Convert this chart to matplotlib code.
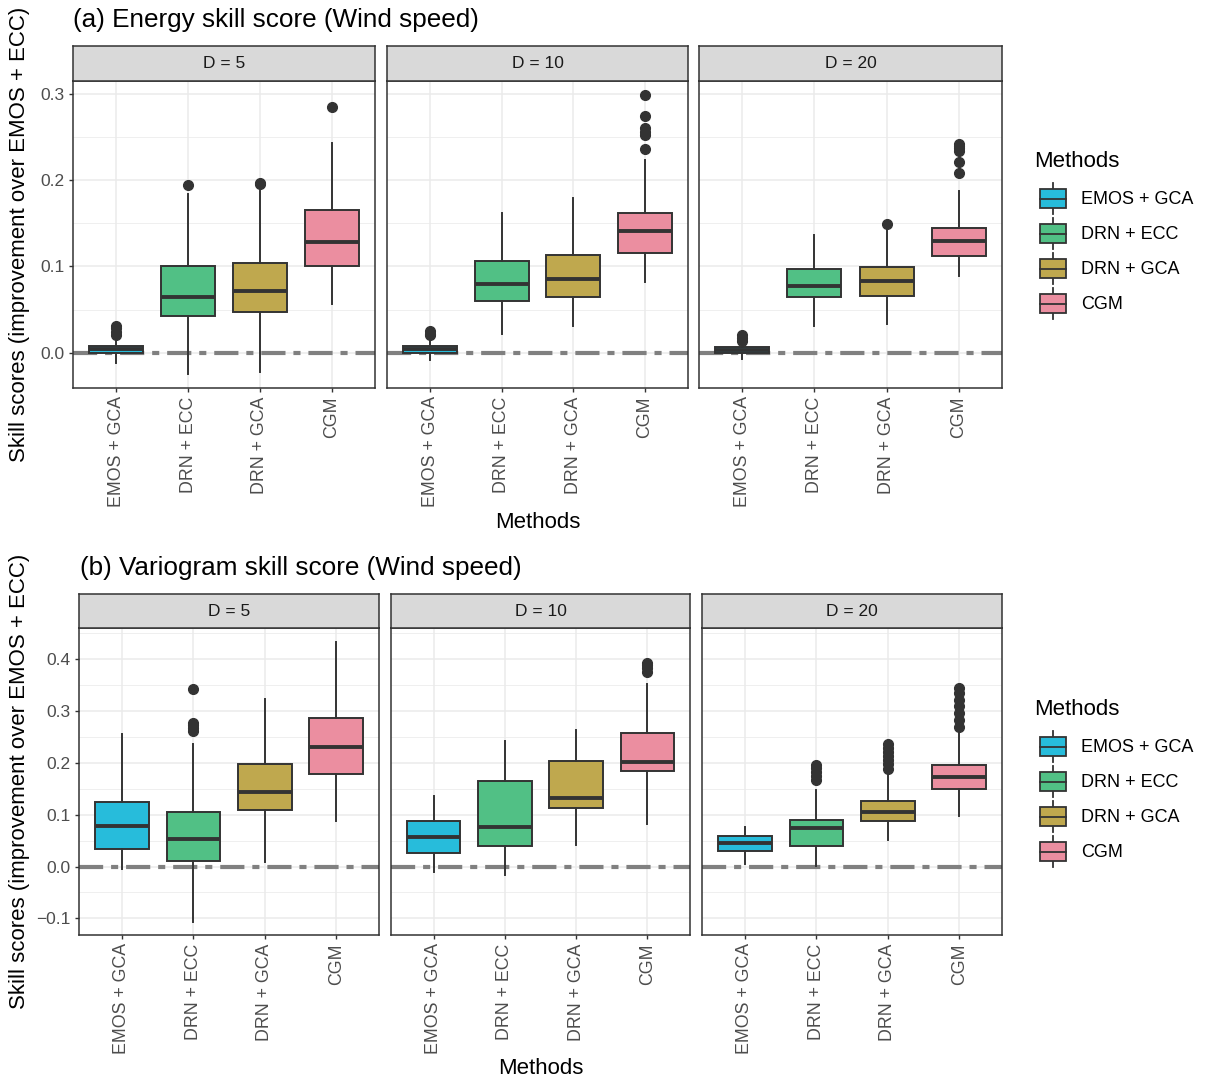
import numpy as np
import matplotlib.pyplot as plt
from matplotlib.patches import Patch, Rectangle
from matplotlib.lines import Line2D
from matplotlib.legend_handler import HandlerBase

plt.rcParams['font.family'] = ['Liberation Sans', 'DejaVu Sans']

methods = ['EMOS + GCA', 'DRN + ECC', 'DRN + GCA', 'CGM']
dims = ['D = 5', 'D = 10', 'D = 20']
colors = ['#27bcdb', '#51c085', '#bfa84e', '#eb8ea0']

# (a) energy skill score, rows: D = 5, 10, 20; columns: methods
es_q1 = [[0.000, 0.042, 0.047, 0.100],
         [0.000, 0.060, 0.064, 0.115],
         [0.000, 0.064, 0.066, 0.112]]
es_med = [[0.004, 0.065, 0.072, 0.128],
          [0.004, 0.080, 0.085, 0.141],
          [0.003, 0.077, 0.083, 0.130]]
es_q3 = [[0.008, 0.101, 0.104, 0.165],
         [0.008, 0.106, 0.113, 0.162],
         [0.006, 0.097, 0.099, 0.144]]
es_lo = [[-0.012, -0.025, -0.022, 0.056],
         [-0.008, 0.022, 0.031, 0.082],
         [-0.007, 0.031, 0.033, 0.089]]
es_hi = [[0.016, 0.184, 0.188, 0.243],
         [0.014, 0.162, 0.179, 0.223],
         [0.011, 0.137, 0.145, 0.188]]
es_out = [[[0.021, 0.024, 0.028, 0.031], [0.194], [0.195, 0.197], [0.285]],
          [[0.020, 0.022, 0.025], [], [], [0.236, 0.252, 0.256, 0.260, 0.274, 0.299]],
          [[0.014, 0.017, 0.020], [], [0.149], [0.208, 0.221, 0.234, 0.237, 0.240, 0.242]]]

# (b) variogram skill score
vs_q1 = [[0.033, 0.010, 0.109, 0.178],
         [0.027, 0.039, 0.113, 0.185],
         [0.030, 0.040, 0.088, 0.149]]
vs_med = [[0.079, 0.053, 0.144, 0.230],
          [0.057, 0.077, 0.133, 0.202],
          [0.045, 0.075, 0.106, 0.172]]
vs_q3 = [[0.124, 0.106, 0.198, 0.287],
         [0.088, 0.165, 0.204, 0.258],
         [0.059, 0.089, 0.126, 0.196]]
vs_lo = [[-0.004, -0.107, 0.008, 0.088],
         [-0.010, -0.017, 0.041, 0.083],
         [0.005, 0.002, 0.051, 0.097]]
vs_hi = [[0.256, 0.236, 0.324, 0.433],
         [0.136, 0.243, 0.263, 0.352],
         [0.077, 0.148, 0.178, 0.260]]
vs_out = [[[], [0.262, 0.268, 0.272, 0.277, 0.342], [], []],
          [[], [], [], [0.376, 0.382, 0.388, 0.392]],
          [[], [0.167, 0.175, 0.183, 0.190, 0.196],
           [0.189, 0.197, 0.205, 0.213, 0.221, 0.229, 0.236],
           [0.270, 0.283, 0.297, 0.310, 0.322, 0.334, 0.344]]]

W, H = 1205, 1081
fig = plt.figure(figsize=(W / 100, H / 100), dpi=100)
DARK = '#333333'


def rect(x0, y0, x1, y1):
    return [x0 / W, 1 - y1 / H, (x1 - x0) / W, (y1 - y0) / H]


class BoxKey(HandlerBase):
    # ggplot-like boxplot key: box, median and whisker stubs
    def create_artists(self, legend, orig_handle, xdescent, ydescent,
                       width, height, fontsize, trans):
        x0, y0 = -xdescent + 4.3, -ydescent
        width = width - 4.3
        xm = x0 + width / 2
        w1 = Line2D([xm, xm], [y0, y0 + 0.2 * height], color=DARK, lw=1.3, transform=trans)
        w2 = Line2D([xm, xm], [y0 + 0.8 * height, y0 + height], color=DARK, lw=1.3, transform=trans)
        box = Rectangle((x0, y0 + 0.2 * height), width, 0.6 * height,
                        facecolor=orig_handle.get_facecolor(), edgecolor=DARK,
                        lw=1.3, transform=trans)
        med = Line2D([x0, x0 + width], [y0 + height / 2] * 2, color=DARK, lw=1.3, transform=trans)
        return [w1, w2, box, med]


def draw_row(q1, med, q3, lo, hi, out, xs, strip_top, y_top, y_bot,
             ylim, major, minor, title, title_x, title_y, xlab_y, leg_y):
    for k in range(3):
        x0, x1 = xs[k]
        ax = fig.add_axes(rect(x0, y_top, x1, y_bot))
        stats = [dict(q1=q1[k][m], med=med[k][m], q3=q3[k][m],
                      whislo=lo[k][m], whishi=hi[k][m], fliers=out[k][m])
                 for m in range(4)]
        ax.axhline(0, color='#808080', lw=3, ls=(0, (5.8, 1.9, 1.7, 1.9)), zorder=1.5)
        bp = ax.bxp(stats, positions=[1, 2, 3, 4], widths=0.75, patch_artist=True,
                    showcaps=False,
                    boxprops=dict(edgecolor=DARK, linewidth=1.4),
                    whiskerprops=dict(color=DARK, linewidth=1.4),
                    medianprops=dict(color=DARK, linewidth=2.8),
                    flierprops=dict(marker='o', markerfacecolor=DARK,
                                    markeredgecolor=DARK, markersize=7),
                    zorder=2)
        for patch, c in zip(bp['boxes'], colors):
            patch.set_facecolor(c)
        ax.set_xlim(0.4, 4.6)
        ax.set_ylim(*ylim)
        ax.set_yticks(major)
        ax.set_yticks(minor, minor=True)
        ax.set_yticklabels(['%.1f' % v if v >= 0 else '\u2212%.1f' % -v for v in major])
        ax.set_xticks([1, 2, 3, 4])
        ax.set_xticklabels(methods, rotation=90)
        ax.grid(which='major', color='#EBEBEB', lw=1.1)
        ax.grid(which='minor', axis='y', color='#EBEBEB', lw=0.55)
        ax.set_axisbelow(True)
        ax.tick_params(which='major', length=3, width=1.0, color=DARK,
                       labelcolor='#4D4D4D', labelsize=12.5, pad=3)
        ax.tick_params(axis='x', labelsize=12.8)
        ax.tick_params(which='minor', length=0)
        if k > 0:
            ax.tick_params(axis='y', left=False, labelleft=False)
        for s in ax.spines.values():
            s.set_color(DARK)
            s.set_linewidth(1.1)

        st = fig.add_axes(rect(x0, strip_top, x1, y_top))
        st.set_facecolor('#D9D9D9')
        st.set_xticks([])
        st.set_yticks([])
        for s in st.spines.values():
            s.set_color(DARK)
            s.set_linewidth(1.1)
        st.text(0.5, 0.5, dims[k], ha='center', va='center', fontsize=12.5,
                color='#1A1A1A', transform=st.transAxes)

    fig.text(title_x / W, 1 - title_y / H, title, fontsize=18.8, ha='left', va='center')
    fig.text(20 / W, 1 - (y_top + y_bot) / 2 / H,
             'Skill scores (improvement over EMOS + ECC)',
             rotation=90, ha='center', va='center', fontsize=16)
    fig.text((xs[0][0] + xs[2][1]) / 2 / W, 1 - xlab_y / H, 'Methods',
             ha='center', va='center', fontsize=16)

    handles = [Patch(facecolor=c, edgecolor=DARK) for c in colors]
    leg = fig.legend(handles, methods, handler_map={Patch: BoxKey()},
                     loc='upper left', bbox_to_anchor=(1021 / W, 1 - leg_y / H),
                     frameon=False, title='Methods', title_fontsize=16,
                     fontsize=13, handlelength=1.78, handleheight=2.26,
                     labelspacing=0.22, handletextpad=0.85, borderpad=0.2,
                     alignment='left')
    leg._legend_box.sep = 8.4
    return leg


draw_row(es_q1, es_med, es_q3, es_lo, es_hi, es_out,
         [(73, 375), (387, 688), (699, 1002)], 46, 81, 388,
         (-0.041, 0.315), [0.0, 0.1, 0.2, 0.3], [0.05, 0.15, 0.25],
         '(a) Energy skill score (Wind speed)', 73, 20, 522, 138)

draw_row(vs_q1, vs_med, vs_q3, vs_lo, vs_hi, vs_out,
         [(79, 379), (391, 690), (702, 1002)], 594, 628, 935,
         (-0.132, 0.46), [-0.1, 0.0, 0.1, 0.2, 0.3, 0.4],
         [-0.05, 0.05, 0.15, 0.25, 0.35, 0.45],
         '(b) Variogram skill score (Wind speed)', 80, 568, 1068, 686)

fig.savefig('out.png', dpi=100)
